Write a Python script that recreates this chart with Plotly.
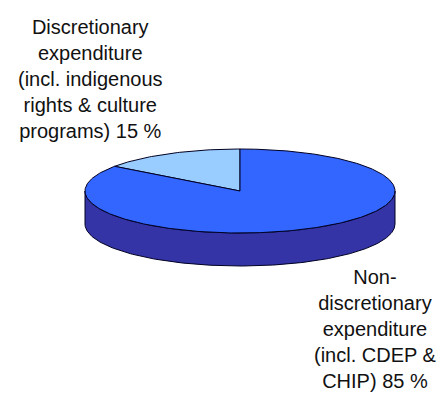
import numpy as np
import plotly.graph_objects as go

# ---- data ----
labels = [
    "Discretionary<br>expenditure<br>(incl. indigenous<br>rights & culture<br>programs) 15 %",
    "Non-<br>discretionary<br>expenditure<br>(incl. CDEP &<br>CHIP) 85 %",
]
values = [15, 85]
top_colors = ["#99CCFF", "#3366FF"]
side_color = "#3434A6"

# ---- geometry (pixel space) ----
W, H = 439, 396
cx, cy = 240, 191
a, b = 155, 42
depth = 33

fig = go.Figure()

def ell(t, dy=0.0):
    return cx + a * np.cos(t), cy - b * np.sin(t) + dy

# side (front half)
t_front = np.linspace(np.pi, 2 * np.pi, 200)
x1, y1 = ell(t_front)
x2, y2 = ell(t_front[::-1], depth)
fig.add_trace(go.Scatter(
    x=np.concatenate([x1, x2, x1[:1]]), y=np.concatenate([y1, y2, y1[:1]]),
    mode="lines", fill="toself", fillcolor=side_color,
    line=dict(color="#000022", width=1), hoverinfo="skip", showlegend=False))

# top slices: start at 12 o'clock, go counter-clockwise
total = sum(values)
start = np.pi / 2
for v, col in zip(values, top_colors):
    sweep = 2 * np.pi * v / total
    t = np.linspace(start, start + sweep, max(int(400 * v / total), 20))
    xs, ys = ell(t)
    fig.add_trace(go.Scatter(
        x=np.concatenate([[cx], xs, [cx]]), y=np.concatenate([[cy], ys, [cy]]),
        mode="lines", fill="toself", fillcolor=col,
        line=dict(color="#000022", width=1), hoverinfo="skip", showlegend=False))
    start += sweep

font = dict(family="Liberation Sans, Arial, sans-serif", size=20, color="#111111")
fig.add_annotation(x=90, y=79, text=labels[0], showarrow=False, font=font,
                   align="center", xanchor="center", yanchor="middle")
fig.add_annotation(x=375, y=329, text=labels[1], showarrow=False, font=font,
                   align="center", xanchor="center", yanchor="middle")

fig.update_layout(
    width=W, height=H, margin=dict(l=0, r=0, t=0, b=0),
    paper_bgcolor="white", plot_bgcolor="white",
    xaxis=dict(range=[0, W], visible=False, fixedrange=True),
    yaxis=dict(range=[H, 0], visible=False, fixedrange=True),
)
fig.write_html("out.html")
